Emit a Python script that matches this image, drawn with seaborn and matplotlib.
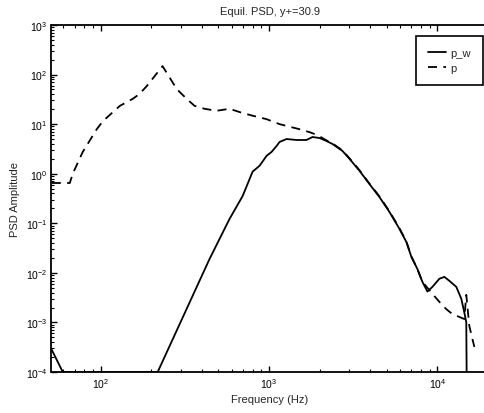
import matplotlib
matplotlib.use("Agg")
import matplotlib.pyplot as plt
import seaborn as sns
import pandas as pd
import numpy as np
from matplotlib.ticker import FixedLocator, LogFormatterMathtext, NullFormatter

# ---- data ----
freq_pw = [51.2, 59.5, 100, 150, 218, 443, 583, 697, 799, 879, 967, 1035, 1109, 1155,
           1270, 1456, 1670, 1813, 1995, 2195, 2381, 2731, 3005, 3445, 3950, 4525,
           5190, 5945, 6545, 7010, 7610, 8150, 8730, 9340, 10280, 11010, 11790,
           12970, 13880, 14460, 14860, 15000]
psd_pw = [2.8e-4, 1.0e-4, 1.0e-4, 1.0e-4, 1.0e-4, 1.9e-2, 1.23e-1, 3.55e-1, 1.10, 1.45,
          2.29, 2.75, 3.63, 4.37, 5.01, 4.79, 4.79, 5.50, 5.25, 4.57, 3.98, 2.88, 2.00,
          1.15, 6.2e-1, 3.4e-1, 1.7e-1, 7.8e-2, 4.2e-2, 2.1e-2, 1.2e-2, 6.6e-3, 4.2e-3,
          5.2e-3, 7.6e-3, 8.3e-3, 6.9e-3, 5.2e-3, 3.0e-3, 1.6e-3, 1.0e-3, 1.0e-5]

freq_p = [51.2, 65.5, 68.2, 78.2, 94.7, 103, 130, 155, 170, 188, 233, 283, 324, 361,
          414, 488, 583, 687, 799, 967, 1155, 1517, 1740, 1940, 2195, 2381, 2731,
          3005, 3445, 3950, 4525, 5190, 5945, 6545, 7010, 7610, 8150, 9340, 10280,
          11290, 12270, 13520, 14460, 14860, 15490, 16140, 16600]
psd_p = [0.65, 0.65, 1.0, 2.75, 7.9, 11.5, 23.4, 32.4, 40.7, 58.9, 148, 51, 32.4, 23.4,
         20.4, 18.6, 20.4, 17.0, 14.8, 12.6, 10.0, 7.9, 6.9, 6.0, 4.7, 4.1, 2.95,
         2.05, 1.18, 6.3e-1, 3.5e-1, 1.75e-1, 8.0e-2, 4.3e-2, 2.15e-2, 1.2e-2, 6.6e-3,
         3.8e-3, 2.6e-3, 1.86e-3, 1.48e-3, 1.29e-3, 1.17e-3, 3.6e-3, 8.5e-4, 4.7e-4,
         3.2e-4]

x_major = [1e2, 1e3, 1e4]
y_major = [1e-4, 1e-3, 1e-2, 1e-1, 1e0, 1e1, 1e2, 1e3]

df_pw = pd.DataFrame({"Frequency": freq_pw, "PSD": psd_pw})
df_p = pd.DataFrame({"Frequency": freq_p, "PSD": psd_p})

sns.set_style("ticks")
plt.rcParams["font.family"] = ["Liberation Sans", "DejaVu Sans"]
plt.rcParams["mathtext.fontset"] = "custom"
plt.rcParams["mathtext.rm"] = "Liberation Sans"
plt.rcParams["mathtext.it"] = "Liberation Sans"

fig = plt.figure(figsize=(4.85, 4.14), dpi=100)
ax = fig.add_axes([51.5 / 485, 1 - 373 / 414, (488 - 51.5) / 485, (373 - 26) / 414])

sns.lineplot(data=df_pw, x="Frequency", y="PSD", ax=ax, color="black", lw=1.3,
             label="p_w", sort=False, estimator=None)
sns.lineplot(data=df_p, x="Frequency", y="PSD", ax=ax, color="black", lw=1.3,
             linestyle=(0, (5, 3.5)), label="p", sort=False, estimator=None)

ax.set_xscale("log")
ax.set_yscale("log")
ax.set_xlim(51, 20000)
ax.set_ylim(1e-4, 1e3)

x_minor = [m * d for d in [10, 100, 1000, 10000] for m in range(2, 10)
           if 51 <= m * d <= 20000]
y_minor = [m * d for d in [1e-4, 1e-3, 1e-2, 1e-1, 1, 10, 100] for m in range(2, 10)]
ax.xaxis.set_major_locator(FixedLocator(x_major))
ax.yaxis.set_major_locator(FixedLocator(y_major))
ax.xaxis.set_minor_locator(FixedLocator(x_minor))
ax.yaxis.set_minor_locator(FixedLocator(y_minor))
ax.xaxis.set_major_formatter(LogFormatterMathtext())
ax.yaxis.set_major_formatter(LogFormatterMathtext())
ax.xaxis.set_minor_formatter(NullFormatter())
ax.yaxis.set_minor_formatter(NullFormatter())

ax.tick_params(which="both", direction="in", top=True, right=False, colors="black")
ax.tick_params(which="major", length=4, width=1.0, labelsize=7.5, pad=3)
ax.tick_params(which="minor", length=2, width=0.8)
for s in ax.spines.values():
    s.set_linewidth(1.3)
    s.set_color("black")
    s.set_visible(True)

ax.set_title("Equil. PSD, y+=30.9", fontsize=8, pad=8)
ax.set_xlabel("Frequency (Hz)", fontsize=8, labelpad=3)
ax.set_ylabel("PSD Amplitude", fontsize=8, labelpad=4)

leg = ax.legend(loc="upper right", bbox_to_anchor=(483 / 485, 1 - 37 / 414),
                bbox_transform=fig.transFigure, frameon=True, fancybox=False,
                fontsize=8, handlelength=1.6, borderpad=1.1, labelspacing=0.45,
                handletextpad=0.4, borderaxespad=0)
leg.get_frame().set_edgecolor("black")
leg.get_frame().set_linewidth(1.2)
leg.get_frame().set_alpha(1)

fig.savefig("out.png", dpi=100, facecolor="white")
